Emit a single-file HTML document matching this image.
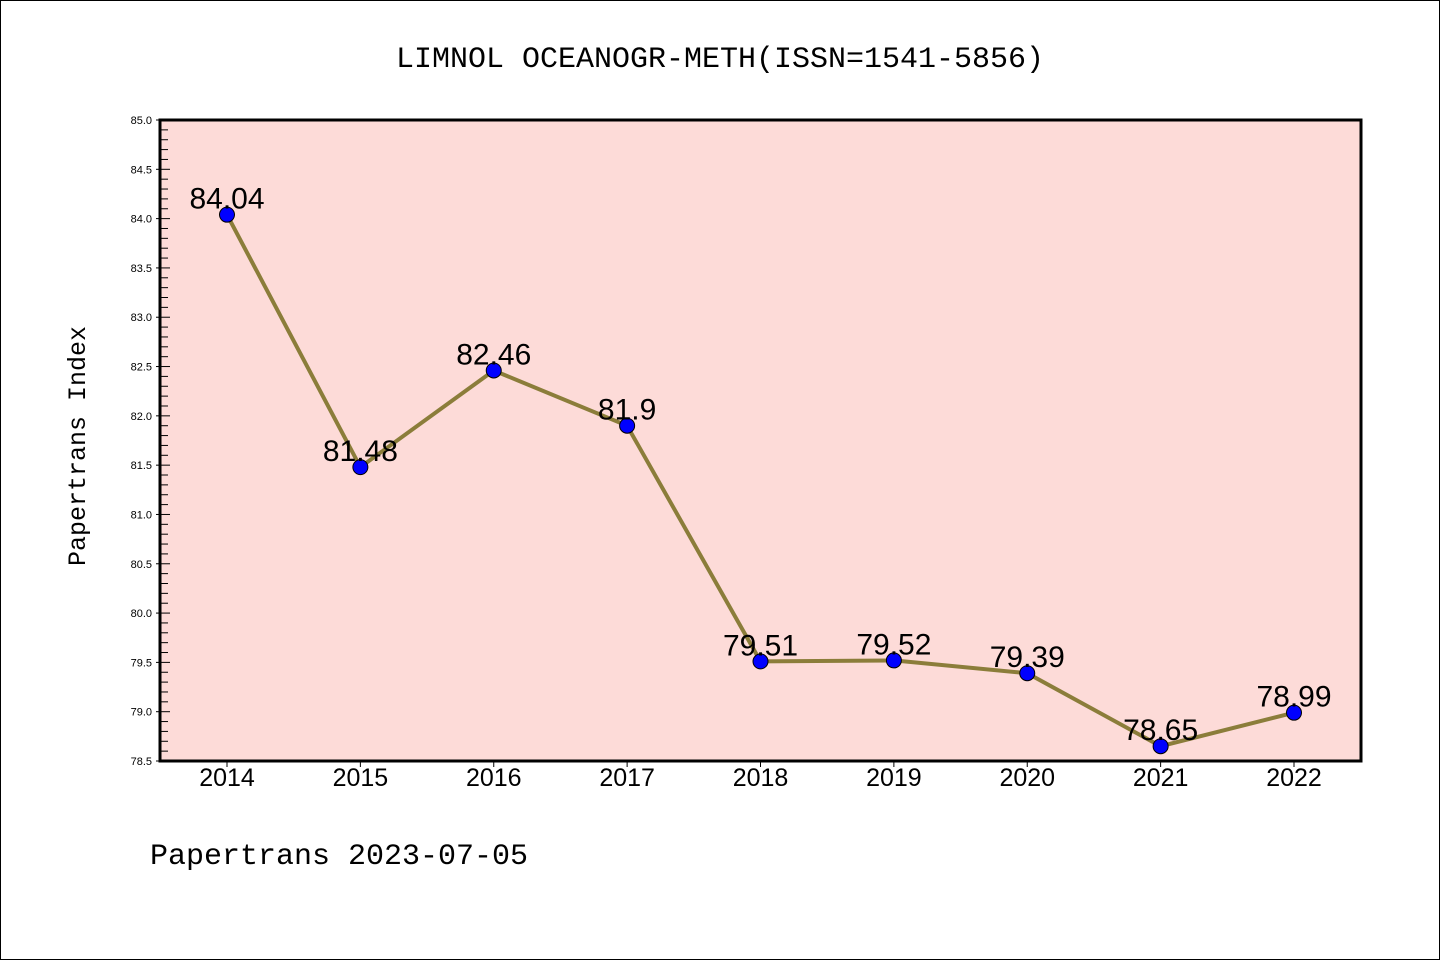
<!DOCTYPE html>
<html><head><meta charset="utf-8">
<style>
html,body{margin:0;padding:0;background:#fff;}
svg{display:block;font-family:"Liberation Sans","DejaVu Sans",sans-serif;}
.mono{font-family:"Liberation Mono","DejaVu Sans Mono",monospace;}
</style></head>
<body>
<svg id="chart" width="1440" height="960" viewBox="0 0 1440 960">
<rect x="0.5" y="0.5" width="1439" height="959" fill="#fff" stroke="#000" stroke-width="1"/>
<text x="720" y="67" text-anchor="middle" font-size="30" class="mono">LIMNOL OCEANOGR-METH(ISSN=1541-5856)</text>
<rect x="160" y="120" width="1201" height="641" fill="#fddbd8"/>
<g id="yaxis"></g>
<g id="xaxis"></g>
<g id="series"></g>
<rect x="160" y="120" width="1201" height="641" fill="none" stroke="#000" stroke-width="3"/>
<text transform="translate(85,446) rotate(-90)" text-anchor="middle" font-size="25" class="mono">Papertrans Index</text>
<text x="150" y="864" font-size="30" class="mono">Papertrans 2023-07-05</text>
</svg>
<script>
const years = ["2014","2015","2016","2017","2018","2019","2020","2021","2022"];
const values = [84.04,81.48,82.46,81.9,79.51,79.52,79.39,78.65,78.99];
const labels = ["84.04","81.48","82.46","81.9","79.51","79.52","79.39","78.65","78.99"];
const yTicks = ["78.5","79.0","79.5","80.0","80.5","81.0","81.5","82.0","82.5","83.0","83.5","84.0","84.5","85.0"];
const NS="http://www.w3.org/2000/svg";
const yMin=78.5,yMax=85.0,plotTop=120,plotBot=761;
function y(v){return plotBot-(v-yMin)/(yMax-yMin)*(plotBot-plotTop);}
function x(i){return 227+i*(1294-227)/(years.length-1);}
function mk(tag,attrs,parent){const e=document.createElementNS(NS,tag);for(const k in attrs)e.setAttribute(k,attrs[k]);parent.appendChild(e);return e;}
const ya=document.getElementById('yaxis'),xa=document.getElementById('xaxis'),sr=document.getElementById('series');
for(let m=0;m<=Math.round((yMax-yMin)*10);m++){
  const v=yMin+m*0.1,yy=y(v);
  const major=m%5===0;
  const t=mk('line',{x1:major?156:160,x2:major?170:168,y1:yy,y2:yy,stroke:'#000','stroke-width':1},ya);
  
  
}
yTicks.forEach(s=>{
  const t=mk('text',{x:152,y:y(parseFloat(s))+4,'text-anchor':'end','font-size':11},ya);
  t.textContent=s;
  
  
});
years.forEach((s,i)=>{
  const l=mk('line',{x1:x(i),x2:x(i),y1:761,y2:767,stroke:'#000','stroke-width':1},xa);
  
  
  const t=mk('text',{x:x(i),y:786,'text-anchor':'middle','font-size':25},xa);
  t.textContent=s;
  
  
});
const pts=values.map((v,i)=>x(i)+','+y(v)).join(' ');
const pl=mk('polyline',{points:pts,fill:'none',stroke:'#8b7d3a','stroke-width':4},sr);


values.forEach((v,i)=>{
  const c=mk('circle',{cx:x(i),cy:y(v),r:7.5,fill:'#0000ff',stroke:'#000','stroke-width':1},sr);
  
  
  const t=mk('text',{x:x(i),y:y(v)-6,'text-anchor':'middle','font-size':30},sr);
  t.textContent=labels[i];
  
  
});
</script>
</body></html>
